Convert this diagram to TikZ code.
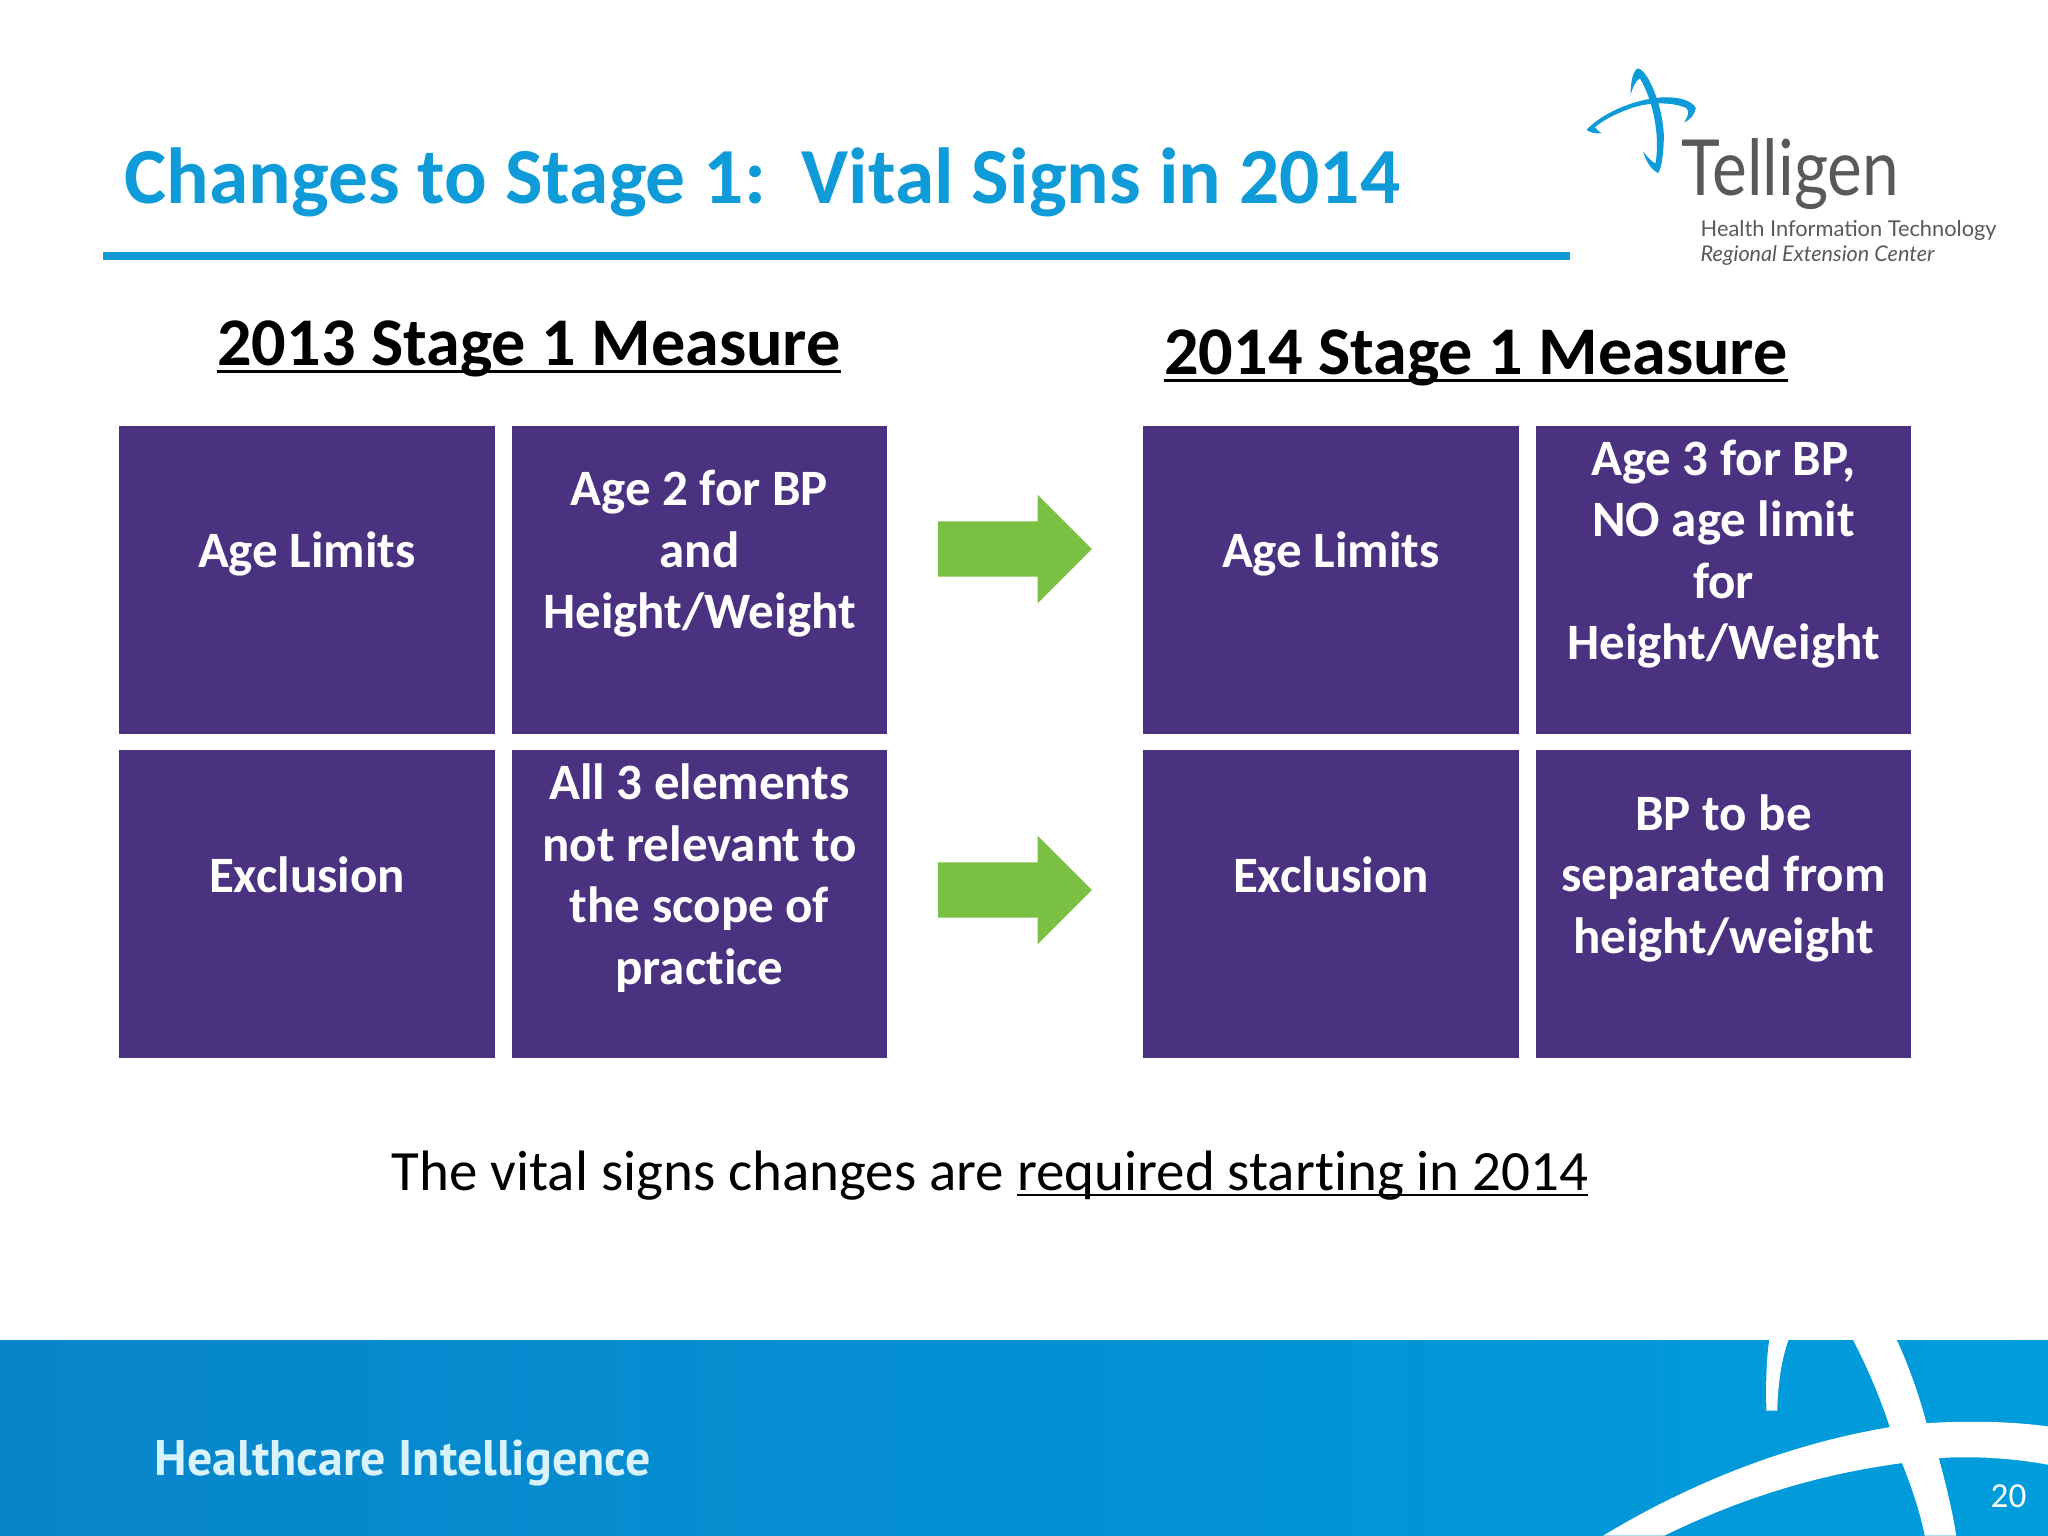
\documentclass[tikz,border=0pt]{standalone}
\usepackage{fontspec}
\setmainfont[Ligatures=NoCommon]{Carlito}
\newfontfamily\logofont{Lato}
\newfontfamily\footfont{PT Sans}
\usetikzlibrary{positioning,calc,shapes.arrows}
\definecolor{tgBlue}{RGB}{15,155,215}
\definecolor{tgPurple}{RGB}{75,50,128}
\definecolor{tgGreen}{RGB}{122,193,67}
\definecolor{tgGray}{RGB}{88,89,91}
\definecolor{tgFootL}{RGB}{8,132,202}
\definecolor{tgFootR}{RGB}{0,157,220}
\newsavebox{\ulbox}
\newcommand{\ulinetext}[3]{\sbox{\ulbox}{#3}\rlap{\rule[#1]{\wd\ulbox}{#2}}\usebox{\ulbox}}
\tikzset{
  cellbox/.style={fill=tgPurple, minimum width=3.76cm, minimum height=3.07cm, inner sep=0pt},
  valbox/.style={cellbox, minimum width=3.74cm},
  celltext/.style={text=white, font=\fontsize{14.5}{17.5}\selectfont\bfseries, align=center},
  headtext/.style={anchor=base, font=\fontsize{19.4}{24}\selectfont\bfseries},
  changearrow/.style={shape=single arrow, fill=tgGreen, inner sep=0pt, text height=0.54cm, text depth=0pt, text width=0pt, minimum height=1.54cm, minimum width=1.07cm, single arrow head extend=0.265cm, single arrow tip angle=90}
}
\begin{document}
\begin{tikzpicture}[x=0.01cm, y=-0.01cm]
  \useasboundingbox (0,0) rectangle (2048,1536);
  \fill[white] (0,0) rectangle (2048,1536);

  % Title
  \node[anchor=base west, inner sep=0pt, text=tgBlue, font=\fontsize{22.6}{28}\selectfont\bfseries] (title) at (124,203) {Changes to Stage 1:\ \ Vital Signs in 2014};
  \fill[tgBlue] (103,252) rectangle (1570,260);

  % Logo
  \begin{scope}[shift={(1540,40)}, x=0.003333cm, y=-0.003333cm]
    \fill[tgBlue] (272,165) .. controls (272,125) and (280,90) .. (295,85) .. controls (330,95) and (375,220) .. (372,300) .. controls (370,350) and (365,385) .. (355,400) .. controls (335,390) and (318,365) .. (310,335) .. controls (325,355) and (340,370) .. (347,370) .. controls (360,300) and (345,190) .. (300,115) .. controls (285,125) and (278,145) .. (272,165) -- cycle;
    \fill[tgBlue] (140,270) .. controls (190,215) and (300,172) .. (380,172) .. controls (425,172) and (460,185) .. (468,205) .. controls (465,225) and (450,240) .. (433,248) .. controls (445,230) and (450,215) .. (440,205) .. controls (400,185) and (320,185) .. (260,210) .. controls (220,225) and (185,245) .. (165,262) .. controls (170,270) and (178,275) .. (185,280) .. controls (165,282) and (150,278) .. (140,270) -- cycle;
  \end{scope}
  \node[anchor=base west, inner sep=0pt, text=tgGray, xscale=0.85, font=\logofont\fontsize{22}{26}\selectfont] (logoname) at (1681,195) {Telligen};
  \node[anchor=base west, inner sep=0pt, text=tgGray, font=\logofont\fontsize{6.2}{8}\selectfont] (logoline) at (1700,236) {Health Information Technology};
  \node[anchor=base west, inner sep=0pt, text=tgGray, font=\logofont\fontsize{6.15}{8}\selectfont\itshape] (logosub) at (1700,261) {Regional Extension Center};

  % Column headings
  \node[headtext] (headOld) at (529,365) {\ulinetext{-2.4pt}{1.1pt}{2013 Stage 1 Measure}};
  \node[headtext] (headNew) at (1476,374) {\ulinetext{-2.4pt}{1.1pt}{2014 Stage 1 Measure}};

  % 2013 boxes
  \node[cellbox] (ageOld) at (307,580) {};
  \node[valbox] (ageValOld) at (699.5,580) {};
  \node[cellbox] (exOld) at (307,904) {};
  \node[valbox] (exValOld) at (699.5,904) {};
  \node[celltext] at ($(ageOld)+(0,-26)$) {Age Limits};
  \node[celltext] at ($(ageValOld)+(0,-26)$) {Age 2 for BP\\and\\Height/Weight};
  \node[celltext] at ($(exOld)+(0,-29)$) {Exclusion};
  \node[celltext] at ($(exValOld)+(0,-26)$) {All 3 elements\\not relevant to\\the scope of\\practice};

  % 2014 boxes
  \node[cellbox] (ageNew) at (1331,580) {};
  \node[valbox] (ageValNew) at (1723.5,580) {};
  \node[cellbox] (exNew) at (1331,904) {};
  \node[valbox] (exValNew) at (1723.5,904) {};
  \node[celltext] at ($(ageNew)+(0,-26)$) {Age Limits};
  \node[celltext] at ($(ageValNew)+(0,-26)$) {Age 3 for BP,\\NO age limit\\for\\Height/Weight};
  \node[celltext] at ($(exNew)+(0,-29)$) {Exclusion};
  \node[celltext] at ($(exValNew)+(0,-26)$) {BP to be\\separated from\\height/weight};

  % Arrows
  \node[changearrow] (arrowAge) at (1001,549) {};
  \node[changearrow] (arrowEx) at (1001,890) {};

  % Note
  \node[anchor=base, inner sep=0pt, font=\fontsize{16.2}{20}\selectfont] (note) at (990,1190) {The vital signs changes are \ulinetext{-1.8pt}{0.7pt}{required starting in 2014}};

  % Footer
  \fill[left color=tgFootL, right color=tgFootR] (0,1340) rectangle (2048,1536);
  \begin{scope}[shift={(1500,1320)}, x=0.003495cm, y=-0.003333cm]
    \fill[white] (770,60) -- (825,60) .. controls (805,120) and (795,190) .. (793,272) -- (762,272) .. controls (760,190) and (762,120) .. (770,60) -- cycle;
    \fill[white] (1010,60) -- (1135,60) .. controls (1170,140) and (1200,230) .. (1220,310) .. controls (1340,302) and (1470,305) .. (1568,320) -- (1568,435) .. controls (1470,415) and (1350,408) .. (1255,415) .. controls (1275,490) and (1295,580) .. (1305,648) -- (1215,648) .. controls (1200,570) and (1175,495) .. (1150,430) .. controls (900,465) and (680,540) .. (470,648) -- (295,648) .. controls (560,480) and (840,370) .. (1115,322) .. controls (1090,240) and (1050,140) .. (1010,60) -- cycle;
  \end{scope}
  \node[anchor=base west, inner sep=0pt, text=white!85!cyan, font=\footfont\bfseries\fontsize{14.2}{17}\selectfont] (footname) at (154,1475) {Healthcare Intelligence};
  \node[anchor=base east, inner sep=0pt, text=white, font=\fontsize{10}{12}\selectfont] (pagenum) at (2027,1507) {20};
\end{tikzpicture}
\end{document}
